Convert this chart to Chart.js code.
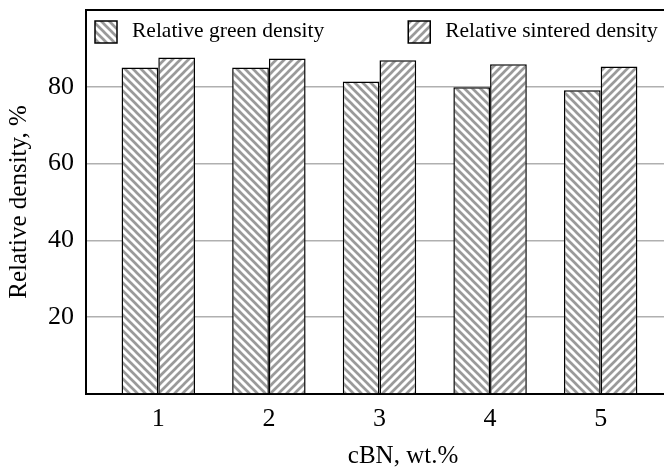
<!DOCTYPE html>
<html lang="en">
<head>
    <meta charset="UTF-8">
    <title>Relative density vs cBN content</title>
    <script src="https://cdn.jsdelivr.net/npm/chart.js"></script>
    <style>
        html, body { margin: 0; padding: 0; background: #fff; overflow: hidden; }
        #wrap { width: 664px; height: 468px; overflow: hidden; }
    </style>
</head>
<body>
    <!-- the plot runs on past the right edge of the frame -->
    <div id="wrap"><canvas id="densityChart" width="720" height="468"></canvas></div>

    <script>
        // cBN content (wt.%) and measured relative densities (%)
        const cbnContent = [1, 2, 3, 4, 5];
        const greenDensity = [85.0, 85.0, 81.4, 79.9, 79.1];
        const sinteredDensity = [87.6, 87.4, 86.9, 85.9, 85.3];
        const yTicks = [20, 40, 60, 80];

        const serif = 'Liberation Serif';

        // diagonal hatch fill; dir = 1 for "/" and -1 for "\"
        function hatch(dir) {
            const p = 8;
            const c = document.createElement('canvas');
            c.width = p; c.height = p;
            const g = c.getContext('2d');
            g.fillStyle = '#fff';
            g.fillRect(0, 0, p, p);
            g.strokeStyle = '#9a9a9a';
            g.lineWidth = 2.7;
            g.beginPath();
            for (let k = -1; k <= 1; k++) {
                if (dir > 0) {
                    g.moveTo(k * p - 1, p + 1);
                    g.lineTo(k * p + p + 1, -1);
                } else {
                    g.moveTo(k * p - 1, -1);
                    g.lineTo(k * p + p + 1, p + 1);
                }
            }
            g.stroke();
            return g.createPattern(c, 'repeat');
        }

        const toPoints = vals => cbnContent.map((x, i) => ({ x: x, y: vals[i] }));

        // legend drawn inside the top of the plot, one row
        const innerLegend = {
            id: 'innerLegend',
            afterDraw(chart) {
                const { ctx, chartArea } = chart;
                const box = 22, gapText = 15, gapItem = 84, top = chartArea.top + 11;
                let x = chartArea.left + 9;
                ctx.save();
                ctx.font = '21.5px ' + serif;
                chart.data.datasets.forEach(ds => {
                    ctx.fillStyle = ds.backgroundColor;
                    ctx.fillRect(x, top, box, box);
                    ctx.strokeStyle = '#000';
                    ctx.lineWidth = 1.5;
                    ctx.strokeRect(x, top, box, box);
                    ctx.fillStyle = '#000';
                    ctx.textBaseline = 'middle';
                    ctx.textAlign = 'left';
                    ctx.fillText(ds.label, x + box + gapText, top + box / 2 - 1);
                    x += box + gapText + ctx.measureText(ds.label).width + gapItem;
                });
                ctx.restore();
            }
        };

        new Chart(document.getElementById('densityChart'), {
            type: 'bar',
            data: {
                datasets: [{
                    label: 'Relative green density',
                    data: toPoints(greenDensity),
                    backgroundColor: hatch(-1),
                    borderColor: '#000',
                    borderWidth: 1.5
                }, {
                    label: 'Relative sintered density',
                    data: toPoints(sinteredDensity),
                    backgroundColor: hatch(1),
                    borderColor: '#000',
                    borderWidth: 1.5
                }]
            },
            plugins: [innerLegend],
            options: {
                responsive: false,
                animation: false,
                layout: { padding: { top: 10, right: 0, left: 0, bottom: 0 } },
                datasets: { bar: { categoryPercentage: 0.664, barPercentage: 1.0 } },
                plugins: {
                    tooltip: { enabled: false },
                    legend: { display: false }
                },
                scales: {
                    x: {
                        type: 'linear',
                        offset: false,
                        min: 0.3463,
                        max: 6.079,
                        afterBuildTicks: s => { s.ticks = cbnContent.map(v => ({ value: v })); },
                        afterFit: s => {
                            s.height = 74;
                            s.paddingLeft = 0; s.paddingRight = 0;
                        },
                        grid: { display: false, drawTicks: false },
                        border: { color: '#000', width: 2 },
                        ticks: {
                            color: '#000',
                            font: { family: serif, size: 26 },
                            padding: 10,
                            maxRotation: 0
                        },
                        title: {
                            display: true,
                            text: 'cBN, wt.%',
                            color: '#000',
                            font: { family: serif, size: 25 },
                            padding: { top: 0, bottom: -3 }
                        }
                    },
                    y: {
                        min: 0,
                        max: 100,
                        afterBuildTicks: s => { s.ticks = [0, ...yTicks, 100].map(v => ({ value: v })); },
                        afterFit: s => {
                            s.width = 86;
                            s.paddingTop = 0; s.paddingBottom = 0;
                        },
                        grid: {
                            drawTicks: false,
                            color: ctx => ctx.tick && ctx.tick.value === 100 ? '#000' : '#b0b0b0',
                            lineWidth: ctx => ctx.tick && ctx.tick.value === 100 ? 2 : 1.5
                        },
                        border: { color: '#000', width: 2 },
                        ticks: {
                            color: '#000',
                            font: { family: serif, size: 26 },
                            padding: 12,
                            callback: v => yTicks.includes(v) ? v : ''
                        },
                        title: {
                            display: true,
                            text: 'Relative density, %',
                            color: '#000',
                            font: { family: serif, size: 25 },
                            padding: { top: 4, bottom: 0 }
                        }
                    }
                }
            }
        });
    </script>
</body>
</html>
